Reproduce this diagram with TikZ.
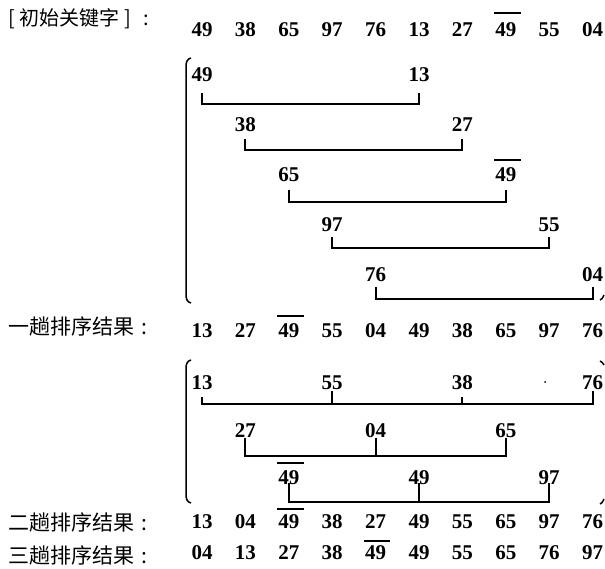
\documentclass[tikz,border=0pt]{standalone}
\usepackage{fontspec}
\setmainfont{Liberation Serif}
\newfontfamily\cjk{Noto Sans CJK SC}
\begin{document}
\begin{tikzpicture}[x=1pt,y=-1pt,
  num/.style={font=\bfseries\fontsize{21}{21}\selectfont, inner sep=0pt},
  lab/.style={font=\cjk\fontsize{20}{20}\selectfont, inner sep=0pt, anchor=west},
  br/.style={line width=1.9pt},
  ovl/.style={line width=1.8pt},
  paren/.style={line width=1.5pt}]
\useasboundingbox (0,0) rectangle (605,569);
% labels
\node[lab] (l0) at (8,19) {[\hspace{5pt}初始关键字\hspace{5pt}]\hspace{12pt}:};
\node[lab,font=\cjk\fontsize{21}{21}\selectfont] (l1) at (8,326) {一趟排序结果\hspace{7pt}:};
\node[lab,font=\cjk\fontsize{21}{21}\selectfont] (l2) at (8,522) {二趟排序结果\hspace{7pt}:};
\node[lab,font=\cjk\fontsize{21}{21}\selectfont] (l3) at (8,555) {三趟排序结果\hspace{7pt}:};
% full rows
\foreach \v [count=\i from 0] in {49,38,65,97,76,13,27,49,55,04}
  \node[num] (r0-\i) at ({202+43.4*\i},30) {\v};
\foreach \v [count=\i from 0] in {13,27,49,55,04,49,38,65,97,76}
  \node[num] (r1-\i) at ({202+43.4*\i},331) {\v};
\foreach \v [count=\i from 0] in {13,04,49,38,27,49,55,65,97,76}
  \node[num] (r2-\i) at ({202+43.4*\i},522) {\v};
\foreach \v [count=\i from 0] in {04,13,27,38,49,49,55,65,76,97}
  \node[num] (r3-\i) at ({202+43.4*\i},553) {\v};
\draw[ovl] ([xshift=-1pt,yshift=10pt]r0-7.north west) -- ([xshift=4pt,yshift=10pt]r0-7.north east);
\draw[ovl] ([xshift=-1pt,yshift=8pt]r1-2.north west) -- ([xshift=4pt,yshift=8pt]r1-2.north east);
\draw[ovl] ([xshift=-1pt,yshift=6pt]r2-2.north west) -- ([xshift=4pt,yshift=6pt]r2-2.north east);
\draw[ovl] ([xshift=-1pt,yshift=5pt]r3-4.north west) -- ([xshift=4pt,yshift=5pt]r3-4.north east);
% group 1
\node[num] (a1) at (202.0,75) {49};  \node[num] (b1) at (419.0,75) {13};
\node[num] (a2) at (245.4,125) {38}; \node[num] (b2) at (462.4,125) {27};
\node[num] (a3) at (288.8,175) {65}; \node[num] (b3) at (505.8,175) {49};
\node[num] (a4) at (332.2,225) {97}; \node[num] (b4) at (549.2,225) {55};
\node[num] (a5) at (375.6,275) {76}; \node[num] (b5) at (592.6,275) {04};
\draw[ovl] ([xshift=-1pt,yshift=8pt]b3.north west) -- ([xshift=4pt,yshift=8pt]b3.north east);
\draw[br] ([yshift=-11pt]a1.south) |- ([yshift=-22pt]b1.south) -- ([yshift=-11pt]b1.south);
\draw[br] ([yshift=-7pt]a2.south) |- ([yshift=-18pt]b2.south) -- ([yshift=-7pt]b2.south);
\draw[br] ([yshift=-8pt]a3.south) |- ([yshift=-20pt]b3.south) -- ([yshift=-8pt]b3.south);
\draw[br] ([yshift=-5pt]a4.south) |- ([yshift=-16pt]b4.south) -- ([yshift=-5pt]b4.south);
\draw[br] ([yshift=-5pt]a5.south) |- ([yshift=-17pt]b5.south) -- ([yshift=-5pt]b5.south);
\draw[paren] (191,58) .. controls (187,59) and (186,62) .. (186,67) -- (186,294) .. controls (186,299) and (187,302) .. (191,303);
% group 2
\node[num] (p1) at (202.0,383) {13}; \node[num] (p2) at (332.2,383) {55};
\node[num] (p3) at (462.4,383) {38}; \node[num] (p4) at (592.6,383) {76};
\node[num] (q1) at (245.4,431) {27}; \node[num] (q2) at (375.6,431) {04};
\node[num] (q3) at (505.8,431) {65};
\node[num] (s1) at (288.8,478) {49}; \node[num] (s2) at (419.0,478) {49};
\node[num] (s3) at (549.2,478) {97};
\draw[ovl] ([xshift=-1pt,yshift=8pt]s1.north west) -- ([xshift=4pt,yshift=8pt]s1.north east);
\draw[br] ([yshift=-7pt]p1.south) |- ([yshift=-14pt]p4.south) -- ([yshift=-1pt]p4.south);
\draw[br] ([yshift=-1pt]p2.south) -- ([yshift=-14pt]p2.south);
\draw[br] ([yshift=-7pt]p3.south) -- ([yshift=-14pt]p3.south);
\draw[br] (q1.south) |- ([yshift=-18pt]q3.south) -- (q3.south);
\draw[br] (q2.south) -- ([yshift=-18pt]q2.south);
\draw[br] ([yshift=2pt]s1.south) |- ([yshift=-17pt]s3.south) -- ([yshift=2pt]s3.south);
\draw[br] ([yshift=2pt]s2.south) -- ([yshift=-17pt]s2.south);
\draw[paren] (191,360) .. controls (187,361) and (186,364) .. (186,369) -- (186,494) .. controls (186,499) and (187,502) .. (191,503);
% small marks at right edge and stray dot
\fill (545,382) circle (1pt);
\draw[paren] (600,300) .. controls (602,299) .. (604,295);
\draw[paren] (600,361) .. controls (602,362) .. (604,365);
\draw[paren] (600,504) .. controls (602,503) .. (604,499);
\end{tikzpicture}
\end{document}
